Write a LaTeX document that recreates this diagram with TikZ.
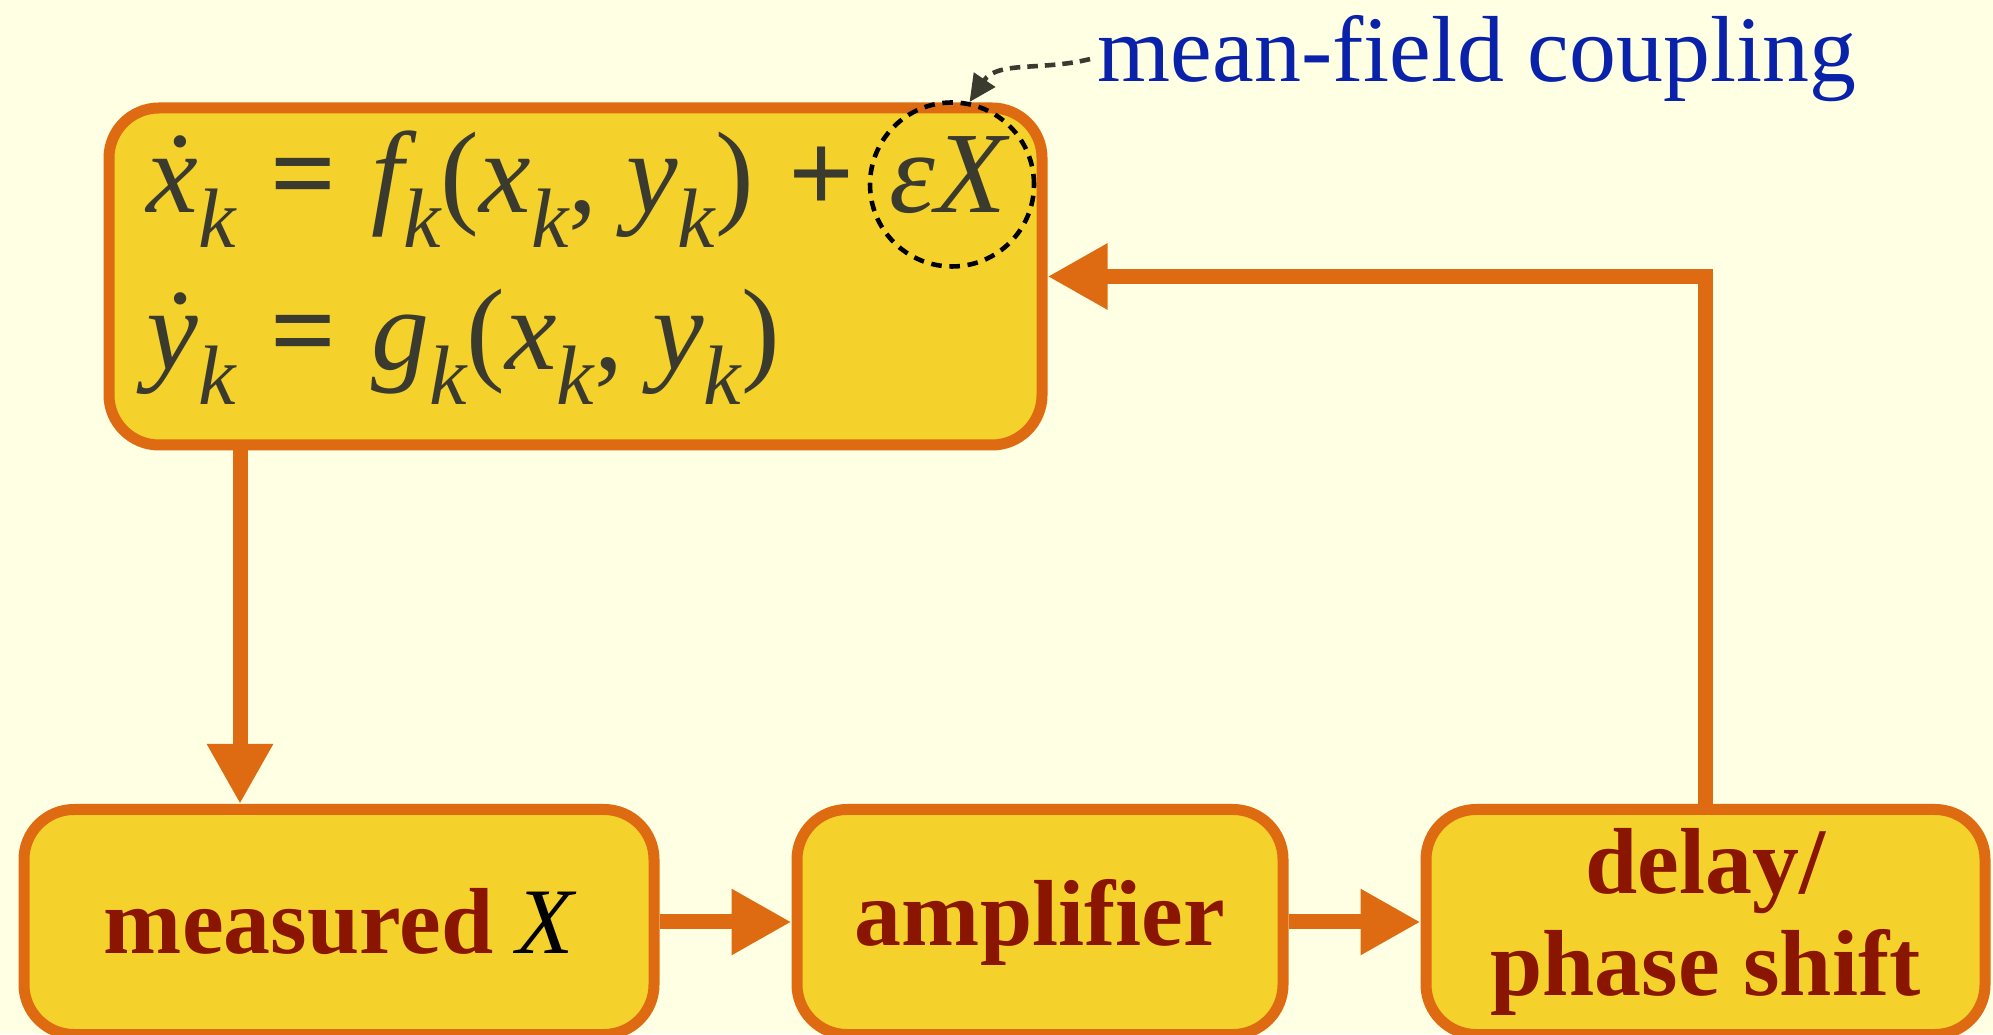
\documentclass[tikz,border=0pt]{standalone}
\usepackage{fontspec}
\setmainfont{Liberation Serif}
\usepackage{xcolor}
\usepackage{tikz}
\usetikzlibrary{arrows.meta}

\definecolor{bgyel}{HTML}{FFFFE4}
\definecolor{boxyel}{HTML}{F5D22B}
\definecolor{edgeor}{HTML}{DE6A12}
\definecolor{labred}{HTML}{8A1500}
\definecolor{mathgr}{HTML}{3B3A2E}
\definecolor{cpblue}{HTML}{0A22AA}
\newcommand{\vk}{\raisebox{-0.3em}{\fontsize{24}{24}\selectfont\itshape k}}
\newcommand{\vop}[1]{\hspace{0.3em}{\bfseries #1}\hspace{0.3em}}

\begin{document}
\begin{tikzpicture}[
  font=\fontsize{26.7}{29}\selectfont, >={Triangle[length=6mm,width=6.2mm]},
  blk/.style={draw=edgeor, line width=1.1mm, fill=boxyel, rounded corners=5mm, align=center, inner sep=0pt, minimum height=22.5mm},
  lab/.style={text=labred, font=\fontsize{26.7}{29}\selectfont\bfseries},
  eqn/.style={anchor=base west, text=mathgr, inner sep=0pt, font=\fontsize{33}{36}\selectfont},
  flow/.style={->, draw=edgeor, line width=1.5mm},
]
\fill[bgyel] (0,0) rectangle (19.93,10.34);
\useasboundingbox (0,0) rectangle (19.93,10.34);
% oscillator k
\node[blk, minimum width=93.3mm, minimum height=33.7mm] (sys) at (5.755,7.575) {};
\node[eqn] (eqx) at (1.46,8.21) {{\itshape\.{x}}\vk\vop{=}{\itshape f}\vk({\itshape x}\vk, {\itshape y}\vk)\vop{+}{\itshape εX}};
\node[eqn] (eqy) at (1.46,6.64) {{\itshape\.{y}}\vk\vop{=}{\itshape g}\vk({\itshape x}\vk, {\itshape y}\vk)};
\node[draw=black, dash pattern=on 3pt off 2.2pt, line width=1.3pt, circle, minimum size=16.4mm, inner sep=0pt] (ring) at (9.52,8.495) {};
\node[anchor=base west, text=cpblue, inner sep=2pt] (cpl) at (10.90,9.52) {mean-field coupling};
\draw[-{Triangle[length=2.7mm,width=2.5mm]}, draw=mathgr, dash pattern=on 3pt off 2pt, line width=1.3pt] (cpl.west) to[out=194,in=56] (ring.78);
% feedback chain
\node[blk, lab, minimum width=63mm] (meas) at (3.39,1.12) {measured \textcolor{black}{\mdseries\itshape X}};
\node[blk, lab, minimum width=48.6mm] (amp) at (10.40,1.12) {amplifier};
\node[blk, lab, minimum width=55.9mm] (dly) at (17.055,1.12) {delay/\\phase shift};
\coordinate (tap) at (2.40,0);
\draw[flow] (sys.south -| tap) -- (meas.north -| tap);
\draw[flow] (meas) -- (amp);
\draw[flow] (amp) -- (dly);
\draw[flow] (dly.north) |- (sys.east);
\end{tikzpicture}
\end{document}
